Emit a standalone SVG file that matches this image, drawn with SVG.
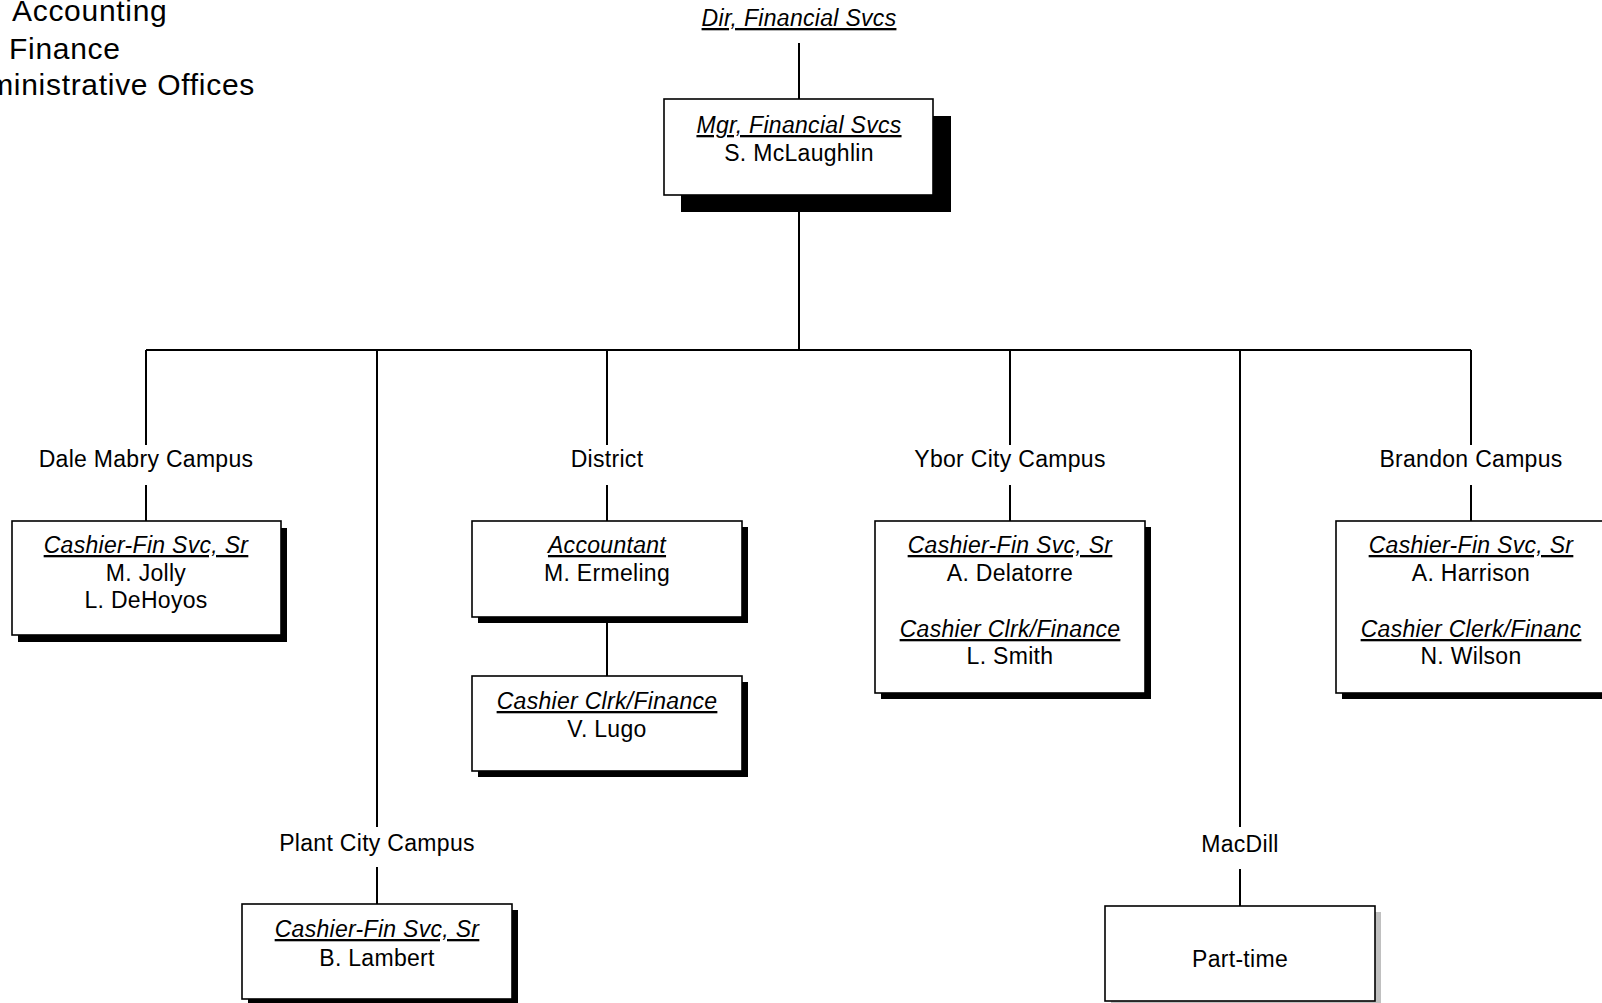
<svg xmlns="http://www.w3.org/2000/svg" width="1602" height="1003" viewBox="0 0 1602 1003">
<style>
text{font-family:"Liberation Sans",Arial,sans-serif;fill:#000}
.t{font-size:23px;letter-spacing:0.3px;text-anchor:middle}
.i{font-style:italic;text-decoration:underline}
.lg{font-size:30px;letter-spacing:0.7px}
.box{fill:#fff;stroke:#000;stroke-width:1.6}
.sh{fill:#000}
.shg{fill:#c0c0c0}
.c{fill:none;stroke:#000;stroke-width:2}
</style>
<rect width="1602" height="1003" fill="#fff"/>
<g id="legend">
<text class="lg" x="12" y="21">Accounting</text>
<text class="lg" x="9" y="59">Finance</text>
<text class="lg" x="255" y="95" text-anchor="end">Administrative Offices</text>
</g>
<g id="connectors">
<path class="c" d="M799 43V99M799 195V350M146 350H1471"/>
<path class="c" d="M146 350V445M146 485V521"/>
<path class="c" d="M377 350V827M377 867V904"/>
<path class="c" d="M607 350V445M607 485V521M607 617V676"/>
<path class="c" d="M1010 350V445M1010 485V521"/>
<path class="c" d="M1240 350V827M1240 869V906"/>
<path class="c" d="M1471 350V445M1471 485V521"/>
</g>
<g id="dir">
<text class="t i" x="799" y="26">Dir, Financial Svcs</text>
</g>
<g id="mgr">
<rect class="sh" x="681" y="116" width="270" height="96"/>
<rect class="box" x="664" y="99" width="269" height="96"/>
<text class="t i" x="799" y="133">Mgr, Financial Svcs</text>
<text class="t" x="799" y="161">S. McLaughlin</text>
</g>
<g id="lbl-dale"><text class="t" x="146" y="467">Dale Mabry Campus</text></g>
<g id="lbl-district"><text class="t" x="607" y="467">District</text></g>
<g id="lbl-ybor"><text class="t" x="1010" y="467">Ybor City Campus</text></g>
<g id="lbl-brandon"><text class="t" x="1471" y="467">Brandon Campus</text></g>
<g id="lbl-plant"><text class="t" x="377" y="851">Plant City Campus</text></g>
<g id="lbl-macdill"><text class="t" x="1240" y="852">MacDill</text></g>
<g id="dale">
<rect class="sh" x="18" y="528" width="269" height="114"/>
<rect class="box" x="12" y="521" width="269" height="114"/>
<text class="t i" x="146" y="553">Cashier-Fin Svc, Sr</text>
<text class="t" x="146" y="581">M. Jolly</text>
<text class="t" x="146" y="608">L. DeHoyos</text>
</g>
<g id="accountant">
<rect class="sh" x="478" y="527" width="270" height="96"/>
<rect class="box" x="472" y="521" width="270" height="96"/>
<text class="t i" x="607" y="553">Accountant</text>
<text class="t" x="607" y="581">M. Ermeling</text>
</g>
<g id="clrk-district">
<rect class="sh" x="478" y="682" width="270" height="95"/>
<rect class="box" x="472" y="676" width="270" height="95"/>
<text class="t i" x="607" y="709">Cashier Clrk/Finance</text>
<text class="t" x="607" y="737">V. Lugo</text>
</g>
<g id="ybor">
<rect class="sh" x="881" y="527" width="270" height="172"/>
<rect class="box" x="875" y="521" width="270" height="172"/>
<text class="t i" x="1010" y="553">Cashier-Fin Svc, Sr</text>
<text class="t" x="1010" y="581">A. Delatorre</text>
<text class="t i" x="1010" y="637">Cashier Clrk/Finance</text>
<text class="t" x="1010" y="664">L. Smith</text>
</g>
<g id="brandon">
<rect class="sh" x="1342" y="527" width="270" height="172"/>
<rect class="box" x="1336" y="521" width="270" height="172"/>
<text class="t i" x="1471" y="553">Cashier-Fin Svc, Sr</text>
<text class="t" x="1471" y="581">A. Harrison</text>
<text class="t i" x="1471" y="637">Cashier Clerk/Financ</text>
<text class="t" x="1471" y="664">N. Wilson</text>
</g>
<g id="plant">
<rect class="sh" x="248" y="910" width="270" height="95"/>
<rect class="box" x="242" y="904" width="270" height="95"/>
<text class="t i" x="377" y="937">Cashier-Fin Svc, Sr</text>
<text class="t" x="377" y="966">B. Lambert</text>
</g>
<g id="parttime">
<rect class="shg" x="1111" y="912" width="270" height="95"/>
<rect class="box" x="1105" y="906" width="270" height="95"/>
<text class="t" x="1240" y="967">Part-time</text>
</g>
</svg>
